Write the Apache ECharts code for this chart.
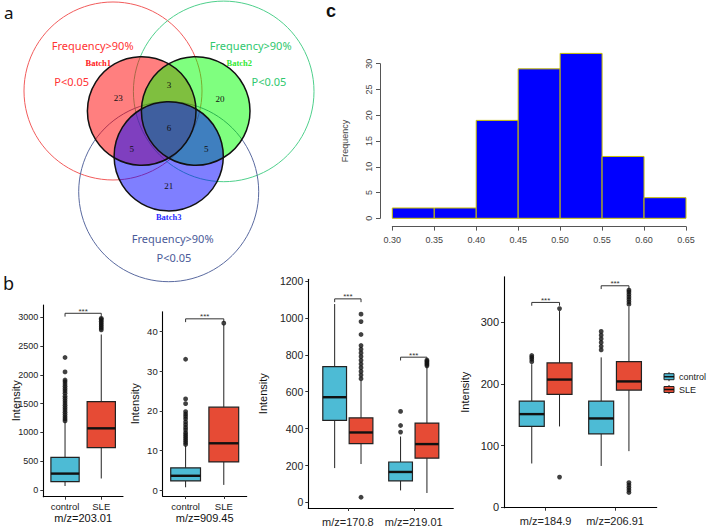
<!DOCTYPE html>
<html><head><meta charset="utf-8">
<script src="https://cdn.jsdelivr.net/npm/echarts@6/dist/echarts.min.js"></script>
<style>html,body{margin:0;padding:0;background:#fff}#c{width:708px;height:527px}</style>
</head><body><div id="c"></div>
<script>
// ================= DATA =================
// Panel a: Venn diagram
const vennBatches = ['Batch1', 'Batch2', 'Batch3'];
const vennCriteria = ['Frequency>90%', 'P<0.05'];
// region counts: only1, only2, only3, 1&2, 1&3, 2&3, 1&2&3
const vennCounts = [23, 20, 21, 3, 5, 5, 6];

// Panel c: histogram
const histBreaks = [0.30, 0.35, 0.40, 0.45, 0.50, 0.55, 0.60, 0.65];
const histCounts = [2, 2, 19, 29, 32, 12, 4];
const histYTicks = [0, 5, 10, 15, 20, 25, 30];

// Panel b: box plots  stats = [lower whisker, Q1, median, Q3, upper whisker]
const groups = ['control', 'SLE'];
const metabolites = ['m/z=203.01', 'm/z=909.45', 'm/z=170.8', 'm/z=219.01', 'm/z=184.9', 'm/z=206.91'];

const stats203_control = [70, 144, 285, 568, 1185];
const stats203_SLE = [200, 735, 1071, 1533, 2700];
const out203_control = [1200, 1235, 1270, 1310, 1350, 1390, 1430, 1470, 1510, 1550, 1590, 1630, 1680, 1720, 1760, 1800, 1840, 1880, 1910, 2050, 2300];
const out203_SLE = [2780, 2810, 2840, 2870, 2900, 2930, 2960, 2980];
const sig203 = 3068;
const yTicks203 = [0, 500, 1000, 1500, 2000, 2500, 3000];

const stats909_control = [0.7, 2.3, 3.6, 5.6, 11.2];
const stats909_SLE = [1.3, 7.1, 11.8, 20.9, 41.8];
const out909_control = [11.5, 12, 12.5, 13, 13.5, 14, 14.5, 15.2, 15.8, 16.5, 17.2, 18, 18.6, 19.2, 19.8, 21.8, 23, 33];
const out909_SLE = [42.1];
const sig909 = 43.2;
const yTicks909 = [0, 10, 20, 30, 40];

const stats170_control = [186, 444, 570, 736, 1075];
const stats170_SLE = [208, 318, 379, 458, 660];
const out170_control = [];
const out170_SLE = [670, 690, 710, 730, 750, 770, 790, 810, 830, 850, 910, 980, 1020, 28];
const sig170 = 1103;
const stats219_control = [65, 117, 165, 219, 357];
const stats219_SLE = [51, 240, 316, 430, 736];
const out219_control = [381, 417, 493];
const out219_SLE = [740, 748, 756, 764, 771];
const sig219 = 787;
const yTicksP3 = [0, 200, 400, 600, 800, 1000, 1200];

const stats184_control = [71, 131, 151, 172, 232];
const stats184_SLE = [131, 183, 207, 234, 318];
const out184_control = [236, 240, 243, 246];
const out184_SLE = [322, 49];
const sig184 = 332;
const stats206_control = [67, 119, 144, 172, 243];
const stats206_SLE = [91, 190, 204, 236, 325];
const out206_control = [255, 261, 267, 273, 279, 285];
const out206_SLE = [329, 333, 337, 341, 345, 349, 352, 24, 28, 32, 36, 40];
const sig206 = 359;
const yTicksP4 = [0, 100, 200, 300];

// ================= STYLE / LAYOUT =================
const FONT = '"Liberation Sans", Arial, sans-serif';
const SERIF = '"Liberation Serif", "Times New Roman", serif';
const VFONT = '"Noto Sans", "Open Sans", sans-serif';
const CTRL = '#4DBBD5', SLEC = '#E64B35';

const chart = echarts.init(document.getElementById('c'), null, {renderer: 'svg', width: 708, height: 527});

function boxRenderer(color, width) {
  return function (params, api) {
    const x = api.value(0);
    const lo = api.coord([x, api.value(1)]);
    const q1 = api.coord([x, api.value(2)]);
    const md = api.coord([x, api.value(3)]);
    const q3 = api.coord([x, api.value(4)]);
    const hi = api.coord([x, api.value(5)]);
    const hw = api.size([width, 0])[0] / 2;
    return {type: 'group', children: [
      {type: 'line', shape: {x1: lo[0], y1: lo[1], x2: q1[0], y2: q1[1]}, style: {stroke: '#222', lineWidth: 1}},
      {type: 'line', shape: {x1: q3[0], y1: q3[1], x2: hi[0], y2: hi[1]}, style: {stroke: '#222', lineWidth: 1}},
      {type: 'rect', shape: {x: q1[0] - hw, y: q3[1], width: 2 * hw, height: q1[1] - q3[1]}, style: {fill: color, stroke: '#222', lineWidth: 1.2}},
      {type: 'line', shape: {x1: md[0] - hw, y1: md[1], x2: md[0] + hw, y2: md[1]}, style: {stroke: '#111', lineWidth: 2.4}}
    ]};
  };
}
function bracketRender(params, api) {
  const a = api.coord([api.value(0), api.value(2)]);
  const b = api.coord([api.value(1), api.value(2)]);
  return {type: 'group', children: [
    {type: 'polyline', shape: {points: [[a[0], a[1] + 3.3], [a[0], a[1]], [b[0], b[1]], [b[0], b[1] + 3.3]]}, style: {stroke: '#333', lineWidth: 1, fill: null}},
    {type: 'text', style: {text: '***', x: (a[0] + b[0]) / 2, y: a[1] + 2, align: 'center', verticalAlign: 'bottom', fontSize: 8, fontFamily: FONT, fill: '#333'}}
  ]};
}
function histRender(params, api) {
  const p0 = api.coord([api.value(0), 0]);
  const p1 = api.coord([api.value(1), api.value(2)]);
  return {type: 'rect', shape: {x: p0[0], y: p1[1], width: p1[0] - p0[0], height: p0[1] - p1[1]},
    style: {fill: '#0000ff', stroke: '#c8c000', lineWidth: 1}};
}

const grids = [
  {left: 392.3, top: 63.7, width: 293.7, height: 154.6},
  {left: 43.3, top: 305, width: 79.7, height: 191.7},
  {left: 162.7, top: 311.7, width: 84, height: 184.3},
  {left: 308.3, top: 279.3, width: 145, height: 229},
  {left: 504, top: 276.7, width: 152.7, height: 231}
];

const panels = [
  {gi: 1, y: [-116, 3212], ticks: yTicks203, fs: 9, yGap: 22, xl: groups, xfs: 9.5, xMargin: 5, xName: metabolites[0], dodge: false,
    items: [{c: stats203_control, s: stats203_SLE, oc: out203_control, os: out203_SLE, sig: sig203}]},
  {gi: 2, y: [-1.5, 45], ticks: yTicks909, fs: 9.5, yGap: 22, xl: groups, xfs: 9.5, xMargin: 5, xName: metabolites[1], dodge: false,
    items: [{c: stats909_control, s: stats909_SLE, oc: out909_control, os: out909_SLE, sig: sig909}]},
  {gi: 3, y: [-30.3, 1209], ticks: yTicksP3, fs: 10.5, yGap: 40, xl: [metabolites[2], metabolites[3]], xfs: 11, xMargin: 8, xName: '', dodge: true,
    items: [{c: stats170_control, s: stats170_SLE, oc: out170_control, os: out170_SLE, sig: sig170},
            {c: stats219_control, s: stats219_SLE, oc: out219_control, os: out219_SLE, sig: sig219}]},
  {gi: 4, y: [-0.65, 373.7], ticks: yTicksP4, fs: 11, yGap: 34, xl: [metabolites[4], metabolites[5]], xfs: 11, xMargin: 8, xName: '', dodge: true,
    items: [{c: stats184_control, s: stats184_SLE, oc: out184_control, os: out184_SLE, sig: sig184},
            {c: stats206_control, s: stats206_SLE, oc: out206_control, os: out206_SLE, sig: sig206}]}
];

const xAxes = [{
  type: 'value', gridIndex: 0, min: 0.3, max: 0.65, offset: 8.3,
  axisLine: {show: true, onZero: false, lineStyle: {color: '#555', width: 1}},
  axisTick: {show: true, customValues: histBreaks, length: 4, lineStyle: {color: '#555'}},
  axisLabel: {customValues: histBreaks, formatter: v => v.toFixed(2), fontSize: 9, color: '#444', margin: 9, fontFamily: FONT},
  splitLine: {show: false}
}];
const yAxes = [{
  type: 'value', gridIndex: 0, min: 0, max: 30, offset: 12.3,
  axisLine: {show: true, onZero: false, lineStyle: {color: '#555', width: 1}},
  axisTick: {show: true, customValues: histYTicks, length: 4, lineStyle: {color: '#555'}},
  axisLabel: {customValues: histYTicks, formatter: v => String(v), rotate: 90, fontSize: 9, color: '#444', margin: 7, fontFamily: FONT},
  splitLine: {show: false},
  name: 'Frequency', nameLocation: 'middle', nameRotate: 90, nameGap: 31, nameMoveOverlap: false,
  nameTextStyle: {fontSize: 9, color: '#444', fontFamily: FONT}
}];
const series = [{
  type: 'custom', xAxisIndex: 0, yAxisIndex: 0, clip: false, renderItem: histRender,
  data: histCounts.map((c, i) => [histBreaks[i], histBreaks[i + 1], c])
}];

panels.forEach(p => {
  xAxes.push({
    type: 'value', gridIndex: p.gi, min: 0.4, max: 2.6,
    axisLine: {show: true, onZero: false, lineStyle: {color: '#000', width: 1.1}},
    axisTick: {show: true, customValues: [1, 2], length: 3, lineStyle: {color: '#333'}},
    axisLabel: {customValues: [1, 2], formatter: v => p.xl[Math.round(v) - 1], fontSize: p.xfs, color: '#222', margin: p.xMargin, fontFamily: FONT},
    splitLine: {show: false},
    name: p.xName, nameLocation: 'middle', nameGap: 16, nameMoveOverlap: false,
    nameTextStyle: {fontSize: 11, color: '#111', fontFamily: FONT}
  });
  yAxes.push({
    type: 'value', gridIndex: p.gi, min: p.y[0], max: p.y[1],
    axisLine: {show: true, onZero: false, lineStyle: {color: '#000', width: 1.1}},
    axisTick: {show: true, customValues: p.ticks, length: 3, lineStyle: {color: '#333'}},
    axisLabel: {customValues: p.ticks, formatter: v => String(v), fontSize: p.fs, color: '#222', margin: 5, fontFamily: FONT},
    splitLine: {show: false},
    name: 'Intensity', nameLocation: 'middle', nameRotate: 90, nameGap: p.yGap, nameMoveOverlap: false,
    nameTextStyle: {fontSize: 11, color: '#111', fontFamily: FONT}
  });
  const idx = xAxes.length - 1;
  const width = p.dodge ? 0.36 : 0.78;
  const ctrlRows = [], sleRows = [], outRows = [], sigRows = [];
  p.items.forEach((it, m) => {
    const xc = p.dodge ? m + 1 - 0.2 : 1;
    const xs = p.dodge ? m + 1 + 0.2 : 2;
    ctrlRows.push([xc].concat(it.c));
    sleRows.push([xs].concat(it.s));
    it.oc.forEach(v => outRows.push([xc, v]));
    it.os.forEach(v => outRows.push([xs, v]));
    sigRows.push([xc, xs, it.sig]);
  });
  series.push({type: 'custom', name: 'control', xAxisIndex: idx, yAxisIndex: idx, renderItem: boxRenderer(CTRL, width), data: ctrlRows, z: 2});
  series.push({type: 'custom', name: 'SLE', xAxisIndex: idx, yAxisIndex: idx, renderItem: boxRenderer(SLEC, width), data: sleRows, z: 2});
  series.push({type: 'scatter', xAxisIndex: idx, yAxisIndex: idx, data: outRows, symbolSize: 4.8,
    itemStyle: {color: '#111'}, z: 3, silent: true});
  series.push({type: 'custom', xAxisIndex: idx, yAxisIndex: idx, renderItem: bracketRender, data: sigRows, clip: false, z: 3});
});

// ---------- Venn diagram (panel a) ----------
const vennInner = [{cx: 141.7, cy: 111, r: 54.3}, {cx: 195.7, cy: 111, r: 54.3}, {cx: 168.7, cy: 156.3, r: 54.6}];
const vennFill = ['rgba(255,0,0,0.5)', 'rgba(0,255,0,0.5)', 'rgba(0,0,255,0.5)'];
const vennOuter = [{cx: 113, cy: 91, r: 89}, {cx: 223.7, cy: 91.4, r: 90.3}, {cx: 168.7, cy: 191.7, r: 90}];
const vennOuterColor = ['#f25c5c', '#4fd08c', '#5a6aa0'];
const vennTextColor = ['#ff3333', '#2fc86e', '#4a5a98'];
const vennBatchColor = ['#ff2020', '#33e833', '#2a2aff'];
const vennBatchPos = [[98.3, 62.7], [239.3, 62.7], [168.7, 217.3]];
const vennCritPos = [[[92.7, 45], [71.7, 81.7]], [[250.7, 45], [269, 81.7]], [[172.7, 238.3], [174, 257.3]]];
const vennCountPos = [[118.3, 98.3], [220, 99], [168.7, 186], [169, 85], [131.7, 149.3], [206.3, 149.3], [169, 127.7]];

const graphic = [];
vennOuter.forEach((c, i) => graphic.push({type: 'circle', shape: c, style: {fill: null, stroke: vennOuterColor[i], lineWidth: 1}, z: 1}));
vennInner.forEach((c, i) => graphic.push({type: 'circle', shape: c, style: {fill: vennFill[i], stroke: null}, z: 2}));
vennInner.forEach(c => graphic.push({type: 'circle', shape: c, style: {fill: null, stroke: '#111', lineWidth: 1.5}, z: 3}));
vennBatches.forEach((b, i) => graphic.push({type: 'text', z: 4, style: {text: b, x: vennBatchPos[i][0], y: vennBatchPos[i][1], align: 'center', verticalAlign: 'middle', fontSize: 8.5, fontWeight: 'bold', fontFamily: SERIF, fill: vennBatchColor[i]}}));
vennCritPos.forEach((pp, i) => pp.forEach((pt, j) => graphic.push({type: 'text', z: 4, style: {text: vennCriteria[j], x: pt[0], y: pt[1], align: 'center', verticalAlign: 'middle', fontSize: 11, fontFamily: VFONT, fill: vennTextColor[i]}})));
vennCounts.forEach((n, i) => graphic.push({type: 'text', z: 4, style: {text: String(n), x: vennCountPos[i][0], y: vennCountPos[i][1], align: 'center', verticalAlign: 'middle', fontSize: 9, fontFamily: SERIF, fill: '#111'}}));

// panel letters
graphic.push({type: 'text', z: 5, style: {text: 'a', x: 4, y: 12, verticalAlign: 'middle', fontSize: 17, fontFamily: VFONT, fill: '#111'}});
graphic.push({type: 'text', z: 5, style: {text: 'b', x: 3, y: 283, verticalAlign: 'middle', fontSize: 18, fontFamily: VFONT, fill: '#111'}});
graphic.push({type: 'text', z: 5, style: {text: 'c', x: 326, y: 11, verticalAlign: 'middle', fontSize: 18, fontWeight: 'bold', fontFamily: FONT, fill: '#111'}});

// legend for box plots
const legendColors = [CTRL, SLEC];
const legendY = [376.7, 389.5];
groups.forEach((g, i) => {
  const y = legendY[i];
  graphic.push({type: 'line', z: 5, shape: {x1: 669, y1: y - 4.5, x2: 669, y2: y + 4.5}, style: {stroke: '#222', lineWidth: 1}});
  graphic.push({type: 'rect', z: 5, shape: {x: 664, y: y - 3, width: 10, height: 6}, style: {fill: legendColors[i], stroke: '#222', lineWidth: 1}});
  graphic.push({type: 'line', z: 5, shape: {x1: 664, y1: y, x2: 674, y2: y}, style: {stroke: '#111', lineWidth: 1.5}});
  graphic.push({type: 'text', z: 5, style: {text: g, x: 679, y: y, verticalAlign: 'middle', fontSize: 9, fontFamily: FONT, fill: '#222'}});
});

chart.setOption({
  animation: false,
  backgroundColor: '#fff',
  grid: grids,
  xAxis: xAxes,
  yAxis: yAxes,
  series: series,
  graphic: graphic
});
</script>
</body></html>
